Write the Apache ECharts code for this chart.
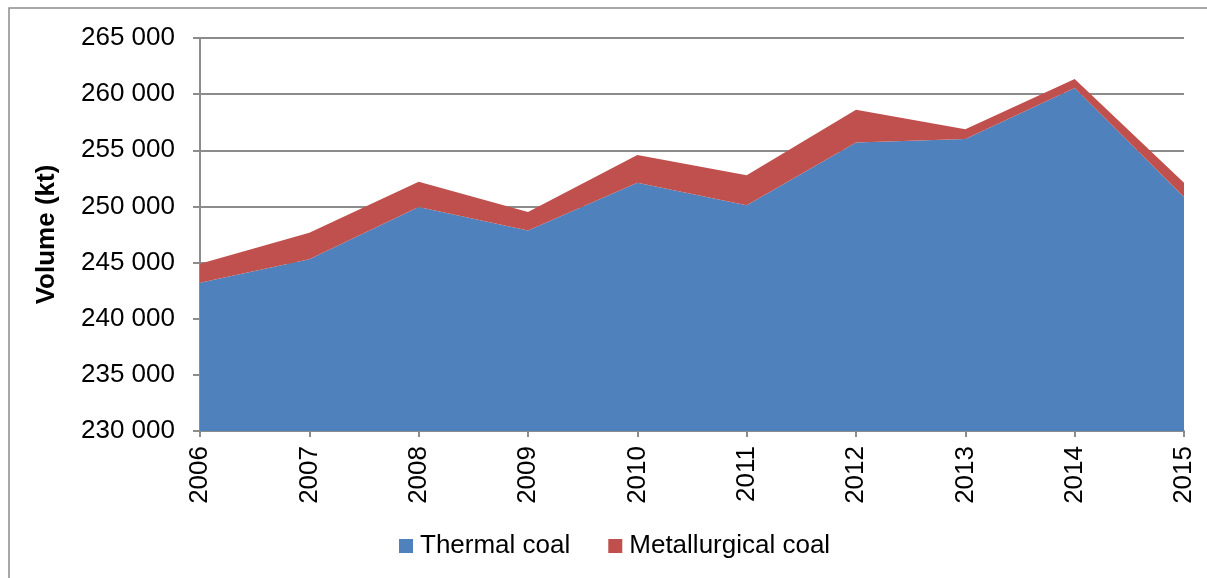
<!DOCTYPE html>
<html>
<head>
<meta charset="utf-8">
<script src="https://cdn.jsdelivr.net/npm/echarts@6/dist/echarts.min.js"></script>
<style>html,body{margin:0;padding:0;background:#fff}#c{width:1207px;height:578px}</style>
</head>
<body>
<div id="c"></div>
<script>
const years = ['2006','2007','2008','2009','2010','2011','2012','2013','2014','2015'];
const thermal = [243200, 245300, 249950, 247850, 252100, 250100, 255700, 256000, 260550, 250850];
const metallurgical = [1700, 2350, 2250, 1650, 2470, 2680, 2900, 880, 800, 1250];
const yMin = 230000, yMax = 265000, yStep = 5000;

const chart = echarts.init(document.getElementById('c'));
const font = 'Liberation Sans, Arial, sans-serif';
chart.setOption({
  animation: false,
  backgroundColor: '#fff',
  graphic: [{
    type: 'rect', shape: {x: 9, y: 8, width: 1220, height: 600},
    style: {fill: 'none', stroke: '#8c8c8c', lineWidth: 1.5}, silent: true, z: -1
  }],
  grid: {left: 200, top: 38, right: 23, bottom: 147, containLabel: false},
  legend: {
    bottom: 14, left: 394, itemWidth: 14, itemHeight: 14, itemGap: 38,
    icon: 'rect',
    textStyle: {fontFamily: font, fontSize: 26, color: '#000', padding: [0,0,0,2]},
    data: ['Thermal coal', 'Metallurgical coal']
  },
  xAxis: {
    type: 'category', data: years, boundaryGap: false,
    axisLine: {lineStyle: {color: '#8c8c8c', width: 2}},
    axisTick: {show: true, length: 6, lineStyle: {color: '#8c8c8c', width: 2}},
    axisLabel: {rotate: 90, margin: 15, fontFamily: font, fontSize: 26, color: '#000'}
  },
  yAxis: {
    type: 'value', min: yMin, max: yMax, interval: yStep,
    name: 'Volume (kt)', nameLocation: 'middle', nameGap: 140, nameRotate: 90,
    nameTextStyle: {fontFamily: font, fontSize: 26, fontWeight: 'bold', color: '#000'},
    axisLine: {show: true, lineStyle: {color: '#8c8c8c', width: 2}},
    axisTick: {show: true, length: 7, lineStyle: {color: '#8c8c8c', width: 2}},
    splitLine: {show: true, lineStyle: {color: '#8c8c8c', width: 2}},
    axisLabel: {
      margin: 25, fontFamily: font, fontSize: 26, color: '#000',
      formatter: v => String(v).replace(/\B(?=(\d{3})+(?!\d))/g, ' ')
    }
  },
  series: [
    {name: 'Thermal coal', type: 'line', stack: 'total', data: thermal, symbol: 'none',
     lineStyle: {width: 0}, areaStyle: {color: '#4F81BD', opacity: 1}, itemStyle: {color: '#4F81BD'}, z: 3},
    {name: 'Metallurgical coal', type: 'line', stack: 'total', data: metallurgical, symbol: 'none',
     lineStyle: {width: 0}, areaStyle: {color: '#C0504D', opacity: 1}, itemStyle: {color: '#C0504D'}, z: 3}
  ]
});
</script>
</body>
</html>
